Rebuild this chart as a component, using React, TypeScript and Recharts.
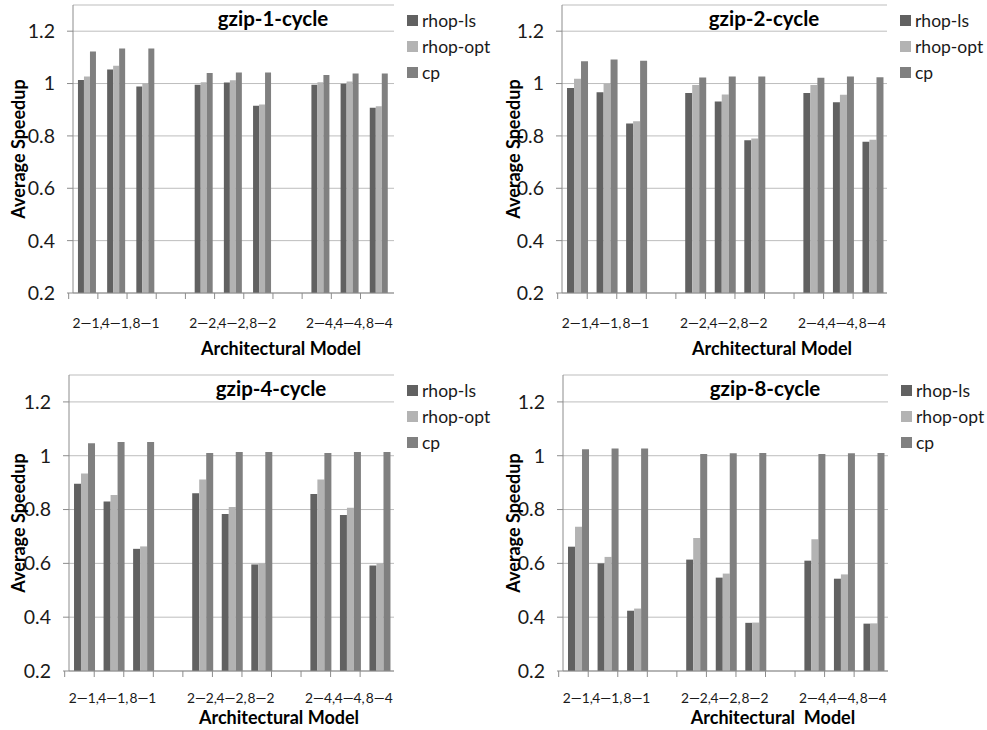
import React from "react";
import { BarChart, Bar, XAxis, YAxis, CartesianGrid, Legend } from "recharts";

// ---------- data ----------
const slotLabels = ["2—1,", "4—1,", "8—1", "", "2—2,", "4—2,", "8—2", "", "2—4,", "4—4,", "8—4"];
const seriesNames = ["rhop-ls", "rhop-opt", "cp"];
const yTicks = [0.2, 0.4, 0.6, 0.8, 1, 1.2];

const c1Ls = [1.014, 1.054, 0.989, null, 0.995, 1.004, 0.915, null, 0.995, 0.999, 0.908];
const c1Opt = [1.027, 1.068, 1.001, null, 1.005, 1.013, 0.92, null, 1.005, 1.008, 0.913];
const c1Cp = [1.122, 1.134, 1.134, null, 1.04, 1.042, 1.042, null, 1.033, 1.038, 1.038];

const c2Ls = [0.983, 0.967, 0.847, null, 0.964, 0.931, 0.783, null, 0.964, 0.929, 0.778];
const c2Opt = [1.018, 1.0, 0.856, null, 0.994, 0.958, 0.79, null, 0.994, 0.957, 0.785];
const c2Cp = [1.085, 1.092, 1.087, null, 1.023, 1.027, 1.027, null, 1.022, 1.027, 1.024];

const c4Ls = [0.896, 0.83, 0.654, null, 0.861, 0.783, 0.596, null, 0.858, 0.78, 0.592];
const c4Opt = [0.934, 0.854, 0.663, null, 0.912, 0.809, 0.6, null, 0.912, 0.807, 0.6];
const c4Cp = [1.046, 1.051, 1.051, null, 1.01, 1.014, 1.014, null, 1.01, 1.014, 1.014];

const c8Ls = [0.662, 0.6, 0.424, null, 0.614, 0.547, 0.379, null, 0.61, 0.543, 0.376];
const c8Opt = [0.736, 0.624, 0.432, null, 0.694, 0.562, 0.38, null, 0.69, 0.559, 0.377];
const c8Cp = [1.024, 1.027, 1.027, null, 1.006, 1.009, 1.01, null, 1.006, 1.009, 1.01];

const titles = ["gzip-1-cycle", "gzip-2-cycle", "gzip-4-cycle", "gzip-8-cycle"];
const xTitles = ["Architectural Model", "Architectural Model", "Architectural Model", "Architectural  Model"];
const yTitle = "Average Speedup";

const build = (ls: (number | null)[], opt: (number | null)[], cp: (number | null)[]) =>
  slotLabels.map((_, i) => ({ slot: i, ls: ls[i], opt: opt[i], cp: cp[i] }));

// ---------- styles ----------
const FONT = "Lato, 'Open Sans', sans-serif";
const COLORS = ["#616161", "#b3b3b3", "#808080"];
const AXIS = "#8c8c8c";
const GRID = "#bdbdbd";
const YW = 50;
const XH = 30;

const panels = [
  { x: 0, y: 0, w: 492, h: 365, pl: 73, pt: 5, pw: 416, ph: 288, data: build(c1Ls, c1Opt, c1Cp), tick: 29, xt: 46 },
  { x: 495, y: 0, w: 492, h: 365, pl: 67, pt: 5, pw: 420, ph: 288, data: build(c2Ls, c2Opt, c2Cp), tick: 29, xt: 46 },
  { x: 0, y: 365, w: 492, h: 365, pl: 69, pt: 10, pw: 420, ph: 296, data: build(c4Ls, c4Opt, c4Cp), tick: 26, xt: 37 },
  { x: 495, y: 365, w: 492, h: 365, pl: 68, pt: 10, pw: 420, ph: 296, data: build(c8Ls, c8Opt, c8Cp), tick: 26, xt: 37 },
];

const SlotTick = (props: any) => {
  const { x, y, payload, band, dy } = props;
  const lx = x - band / 2;
  return (
    <g>
      <line x1={lx} x2={lx} y1={y} y2={y + 6} stroke={AXIS} strokeWidth={1} />
      <text x={x} y={y + dy} textAnchor="middle" dominantBaseline="central" fontFamily={FONT} fontSize={13.8} fill="#1a1a1a">
        {slotLabels[payload.value]}
      </text>
    </g>
  );
};

const LegendBox = (props: any) => {
  const items = [...(props.payload || [])].sort(
    (a: any, b: any) => seriesNames.indexOf(a.value) - seriesNames.indexOf(b.value)
  );
  return (
    <div style={{ fontFamily: FONT }}>
      {items.map((p: any, i: number) => (
        <div key={i} style={{ display: "flex", alignItems: "center", height: 26 }}>
          <span style={{ width: 11, height: 11, background: p.color, display: "inline-block", marginRight: 4, flexShrink: 0 }} />
          <span style={{ fontSize: 17.5, color: "#1a1a1a", whiteSpace: "nowrap" }}>{p.value}</span>
        </div>
      ))}
    </div>
  );
};

const Panel = ({ p, idx }: { p: any; idx: number }) => {
  const band = p.pw / slotLabels.length;
  const margin = {
    top: p.pt,
    left: p.pl - YW,
    right: p.w - p.pl - p.pw,
    bottom: p.h - p.pt - p.ph - XH,
  };
  const cx = p.pl + p.pw / 2;
  const cy = p.pt + p.ph / 2;
  return (
    <div style={{ position: "absolute", left: p.x, top: p.y, width: p.w, height: p.h }}>
      <BarChart width={p.w} height={p.h} data={p.data} margin={margin} barCategoryGap="17%" barGap={0}>
        <CartesianGrid vertical={false} stroke={GRID} strokeWidth={1} />
        <XAxis
          dataKey="slot"
          type="category"
          height={XH}
          axisLine={{ stroke: AXIS }}
          tickLine={false}
          tickSize={0}
          tickMargin={0}
          interval={0}
          tick={<SlotTick band={band} dy={p.tick} />}
        />
        <YAxis
          width={YW}
          domain={[0.2, 1.3]}
          ticks={yTicks}
          allowDataOverflow
          axisLine={{ stroke: AXIS }}
          tickLine={{ stroke: AXIS }}
          tickSize={6}
          tickMargin={12}
          tick={{ fontFamily: FONT, fontSize: 19.5, fill: "#1a1a1a" }}
        />
        <Legend
          layout="vertical"
          verticalAlign="top"
          align="right"
          content={<LegendBox />}
          wrapperStyle={{ position: "absolute", left: p.pl + p.pw - 82, top: p.pt + 2, width: 95 }}
        />
        <Bar dataKey="ls" name={seriesNames[0]} fill={COLORS[0]} isAnimationActive={false} />
        <Bar dataKey="opt" name={seriesNames[1]} fill={COLORS[1]} isAnimationActive={false} />
        <Bar dataKey="cp" name={seriesNames[2]} fill={COLORS[2]} isAnimationActive={false} />
      </BarChart>
      <div
        style={{
          position: "absolute",
          left: cx - 8 - 100,
          width: 200,
          top: p.pt + 1,
          textAlign: "center",
          fontFamily: FONT,
          fontWeight: 700,
          fontSize: 20.5,
          lineHeight: "24px",
          color: "#000",
        }}
      >
        {titles[idx]}
      </div>
      <div
        style={{
          position: "absolute",
          left: cx - 150,
          width: 300,
          top: p.pt + p.ph + p.xt,
          textAlign: "center",
          fontFamily: FONT,
          fontWeight: 700,
          fontSize: 18,
          lineHeight: "18px",
          color: "#000",
          whiteSpace: "pre",
        }}
      >
        {xTitles[idx]}
      </div>
      <div
        style={{
          position: "absolute",
          left: 18 - 100,
          top: cy - 11,
          width: 200,
          height: 22,
          textAlign: "center",
          transform: "rotate(-90deg)",
          fontFamily: FONT,
          fontWeight: 700,
          fontSize: 18,
          lineHeight: "22px",
          color: "#000",
        }}
      >
        {yTitle}
      </div>
    </div>
  );
}

export default function App() {
  return (
    <div style={{ position: "absolute", left: 0, top: 0, width: 987, height: 730, background: "#fff" }}>
      {panels.map((p, i) => (
        <Panel key={i} p={p} idx={i} />
      ))}
    </div>
  );
}
